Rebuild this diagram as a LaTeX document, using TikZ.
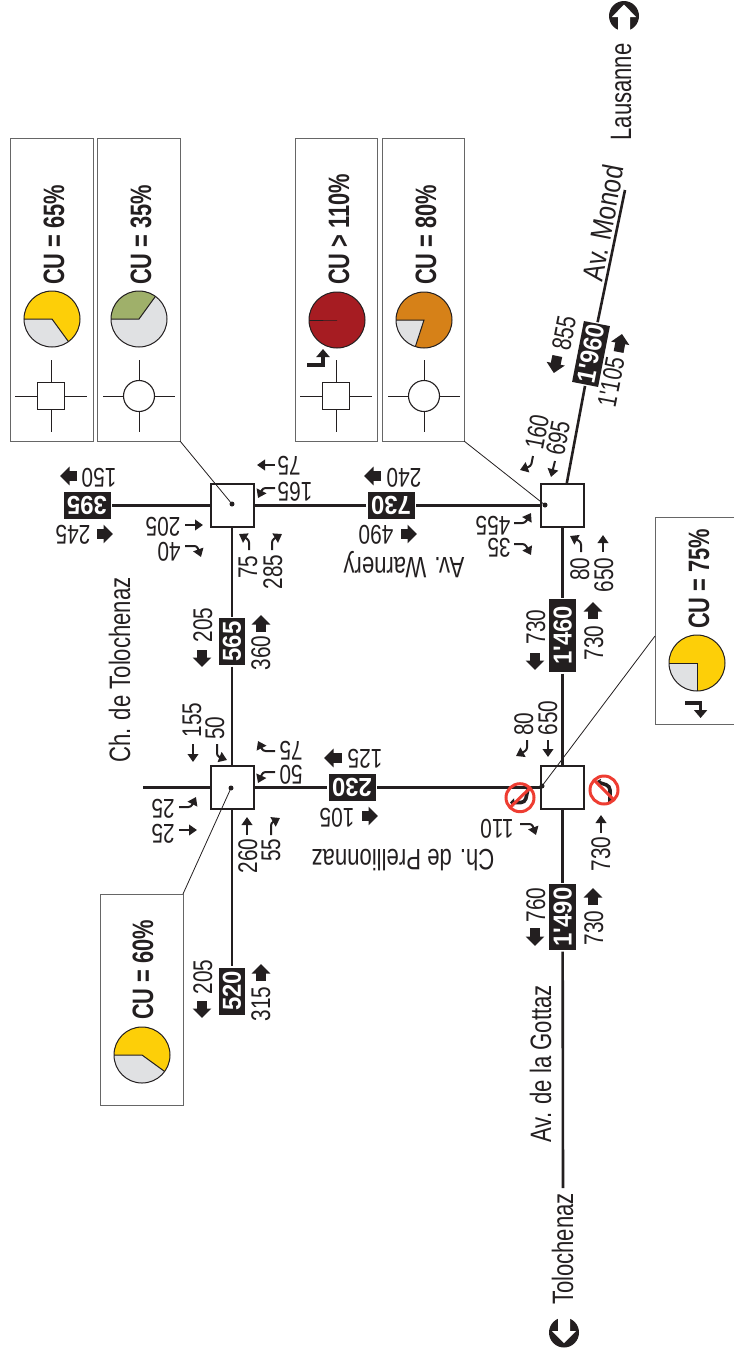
\documentclass[tikz,border=0pt]{standalone}
\usepackage{fontspec}
\usetikzlibrary{arrows.meta}
\newfontfamily\numfont[FakeStretch=0.77]{Liberation Sans}
\newfontfamily\roadfont[FakeStretch=0.75]{Liberation Sans}
\newfontfamily\monodfont[FakeStretch=0.83]{Liberation Sans}
\newfontfamily\cufont[FakeStretch=0.74]{Liberation Sans}
\newfontfamily\boxfont[FakeStretch=0.92]{Liberation Sans}
\definecolor{ink}{HTML}{231F20}
\definecolor{panelgray}{HTML}{666666}
\definecolor{piegray}{HTML}{E0E1E3}
\definecolor{pieyellow}{HTML}{FDCF08}
\definecolor{piegreen}{HTML}{9FB06A}
\definecolor{piered}{HTML}{A61C22}
\definecolor{pieorange}{HTML}{D68118}
\definecolor{nored}{HTML}{EE3D32}
\tikzset{
  road/.style={draw=ink,line width=2.6pt},
  junction/.style={draw=ink,line width=2pt,fill=white,minimum size=43pt,inner sep=0pt,outer sep=0pt},
  flowbox/.style={fill=ink,text=white,inner sep=0pt,outer sep=1.5pt,minimum height=26.5pt,font=\boxfont\bfseries\fontsize{26}{26}\selectfont},
  nv/.style={rotate=90,anchor=base,inner sep=0pt,text=ink,font=\numfont\fontsize{27}{27}\selectfont},
  nh/.style={rotate=180,anchor=base,inner sep=0pt,text=ink,font=\numfont\fontsize{27}{27}\selectfont},
  ns/.style={rotate=79,anchor=center,inner sep=0pt,text=ink,font=\numfont\fontsize{27}{27}\selectfont},
  rv/.style={rotate=90,anchor=base,inner sep=0pt,text=ink,font=\roadfont\fontsize{29.5}{30}\selectfont},
  rh/.style={rotate=180,anchor=base,inner sep=0pt,text=ink,font=\roadfont\fontsize{29.5}{30}\selectfont},
  rs/.style={rotate=79,anchor=center,inner sep=0pt,text=ink,font=\monodfont\fontsize{29.5}{30}\selectfont},
  cutext/.style={rotate=90,anchor=base west,inner sep=0pt,text=ink,font=\cufont\bfseries\fontsize{29.5}{30}\selectfont},
  panel/.style={draw=panelgray,line width=1pt,fill=white,inner sep=0pt,outer sep=0pt},
  leader/.style={draw=ink,line width=0.8pt},
  dotmark/.style={circle,fill=ink,inner sep=0pt,minimum size=5pt,outer sep=0pt},
  thinarr/.style={draw=ink,line width=2pt,-{Triangle[width=10.5pt,length=8pt]}},
  turnarr/.style={draw=ink,line width=2pt,rounded corners=2.5pt,-{Triangle[width=10.5pt,length=8pt]}},
  blockarr/.style={draw=ink,line width=10pt,-{Triangle[width=18pt,length=9.5pt]}},
  panelarr/.style={draw=ink,line width=3.2pt,-{Triangle[width=13pt,length=8pt]}},
  symline/.style={draw=ink,line width=1pt},
  symshape/.style={draw=ink,line width=1.1pt,fill=white},
  noturn/.style={draw=nored,line width=3pt},
  noarrow/.style={draw=ink,line width=3.6pt,rounded corners=4pt,-{Triangle[width=8pt,length=4pt]}}
}
\newcommand{\piechart}[4]{%
  \begin{scope}[shift={(#1,#2)},y=1pt]
    \fill[piegray] (0,0) circle[radius=28pt];
    \fill[#3] (0,0) -- (180:28pt) arc[start angle=180,end angle=#4,radius=28pt] -- cycle;
    \draw[ink,line width=1pt] (180:28pt) -- (0,0) -- (#4:28pt);
    \draw[ink,line width=1pt] (0,0) circle[radius=28pt];
  \end{scope}}
\newcommand{\symsquare}[2]{%
  \draw[symline] (#1-36,#2) -- (#1+36,#2) (#1,#2-36) -- (#1,#2+36);
  \fill[white,draw=ink,line width=1pt] (#1-13.7,#2-13.7) rectangle (#1+13.7,#2+13.7);}
\newcommand{\symcircle}[2]{%
  \draw[symline] (#1-36,#2) -- (#1+36,#2) (#1,#2-36) -- (#1,#2+36);
  \draw[symshape] (#1,#2) circle[radius=15.5pt];}
\begin{document}
\begin{tikzpicture}[x=1pt,y=-1pt]
\useasboundingbox (0,0) rectangle (734,1360);
% coordinates for free road ends
\coordinate (westEnd) at (143,787.5);
\coordinate (monodEnd) at (625,190);
\coordinate (tolEnd) at (563,1188);
% junctions
\node[junction] (jA) at (232,505.5) {};
\node[junction] (jB) at (562.6,505.5) {};
\node[junction] (jC) at (232,787.5) {};
\node[junction] (jD) at (562.6,787.5) {};
% flow boxes
\node[flowbox,rotate=180,minimum width=47pt] (b395) at (87,505.5) {395};
\node[flowbox,rotate=180,minimum width=47pt] (b730) at (391,505.5) {730};
\node[flowbox,rotate=180,minimum width=47pt] (b230) at (352,787.5) {230};
\node[flowbox,rotate=90,minimum width=47pt] (b565) at (232,641.5) {565};
\node[flowbox,rotate=90,minimum width=47pt] (b520) at (232,991) {520};
\node[flowbox,rotate=90,minimum width=73pt] (b1460) at (562.6,635.5) {1'460};
\node[flowbox,rotate=90,minimum width=66pt] (b1490) at (562.6,917) {1'490};
\node[flowbox,rotate=79,minimum width=62pt] (b1960) at (591,354) {1'960};
% roads
\draw[road] (jA) -- (b395);
\draw[road] (jA) -- (b730);
\draw[road] (b730) -- (jB);
\draw[road] (jA) -- (b565);
\draw[road] (b565) -- (jC);
\draw[road] (jC) -- (b520);
\draw[road] (jC) -- (westEnd);
\draw[road] (jC) -- (b230);
\draw[road] (b230) -- (jD);
\draw[road] (jB) -- (b1460);
\draw[road] (b1460) -- (jD);
\draw[road] (jD) -- (b1490);
\draw[road] (b1490) -- (tolEnd);
\draw[road] (jB) -- (b1960);
\draw[road] (b1960) -- (monodEnd);
% panels
\node[panel,minimum width=83pt,minimum height=303pt] (p1) at (51.5,289.5) {};
\node[panel,minimum width=83pt,minimum height=303pt] (p2) at (138.5,289.5) {};
\node[panel,minimum width=82pt,minimum height=303pt] (p3) at (336,289.5) {};
\node[panel,minimum width=82pt,minimum height=303pt] (p4) at (423,289.5) {};
\node[panel,minimum width=83pt,minimum height=211pt] (p6) at (141.5,999.5) {};
\draw[panel,fill=none] (734,517) -- (655,517) -- (655,724) -- (734,724);
\coordinate (p5a) at (655,636);
% leader dots and leaders
\node[dotmark] (dA) at (232,504) {};
\node[dotmark] (dB) at (545,505) {};
\node[dotmark] (dC) at (231,788) {};
\node[dotmark] (dD) at (542,786) {};
\draw[leader] (p2.south east) -- (dA);
\draw[leader] (p4.south east) -- (dB);
\draw[leader] (p6.north east) -- (dC);
\draw[leader] (p5a) -- (dD);
% panel symbols
\symsquare{51}{396}
\symcircle{139}{396}
\symsquare{336}{396}
\symcircle{424}{396}
% pies
\piechart{52}{319}{pieyellow}{-54}
\piechart{139}{319}{piegreen}{54}
\piechart{337}{320}{piered}{-180}
\piechart{424}{320}{pieorange}{-108}
\piechart{697}{663}{pieyellow}{-90}
\piechart{142}{1055}{pieyellow}{-36}
% CU texts
\node[cutext] (cu1) at (64,285) {CU = 65\%};
\node[cutext] (cu2) at (151,285) {CU = 35\%};
\node[cutext] (cu3) at (349,285) {CU > 110\%};
\node[cutext] (cu4) at (436,285) {CU = 80\%};
\node[cutext] (cu5) at (709,629) {CU = 75\%};
\node[cutext] (cu6) at (153,1020) {CU = 60\%};
% panel arrows
\draw[panelarr] (307,365) -- (323,365) -- (323,349);
\draw[panelarr] (685,703) -- (700.6,703) -- (700.6,718);
% section flows
\node[nh] (t150) at (99,468) {150};
\draw[blockarr] (77,476) -- (60,476);
\node[nh] (t245) at (73,525) {245};
\draw[blockarr] (97,534) -- (113,534);
\node[nh] (t240) at (404,468) {240};
\draw[blockarr] (381,476) -- (364,476);
\node[nh] (t490) at (376,525) {490};
\draw[blockarr] (401,534) -- (417,534);
\node[nh] (t125) at (365,749) {125};
\draw[blockarr] (342,758) -- (324,758);
\node[nh] (t105) at (337,808) {105};
\draw[blockarr] (362,816) -- (378,816);
\node[nv] (t205a) at (212,625) {205};
\draw[blockarr] (202,650) -- (202,667);
\node[nv] (t360) at (270,653) {360};
\draw[blockarr] (261,632) -- (261,615);
\node[nv] (t205b) at (212,977) {205};
\draw[blockarr] (202,1001) -- (202,1018);
\node[nv] (t315) at (270,1004) {315};
\draw[blockarr] (261,981) -- (261,964);
\node[nv] (t730a) at (545,627) {730};
\draw[blockarr] (535,653) -- (535,670);
\node[nv] (t730b) at (603,643) {730};
\draw[blockarr] (593,619) -- (593,602);
\node[nv] (t760) at (545,905) {760};
\draw[blockarr] (535,928) -- (535,946);
\node[nv] (t730c) at (603,928) {730};
\draw[blockarr] (593,905) -- (593,888);
\node[ns] (t855) at (564,333) {855};
\draw[blockarr] (557.3,356) -- (553.8,373);
\node[ns] (t1105) at (611,382) {1'105};
\draw[blockarr] (618.6,352) -- (622,334);
% turning flows, junction A
\node[nh] (a205) at (163,517) {205};
\draw[thinarr] (185,525) -- (203,525);
\node[nh] (a40) at (169,542) {40};
\draw[turnarr] (185,546) -- (197,546) -- (201,557);
\node[nh] (a75) at (289,456) {75};
\draw[thinarr] (275,465) -- (257,465);
\node[nh] (a165) at (295,482) {165};
\draw[turnarr] (275,488) -- (263,488) -- (258,498);
\node[nv] (a75b) at (257,567) {75};
\draw[turnarr] (249,550) -- (249,540) -- (239,534);
\node[nv] (a285) at (282,572) {285};
\draw[turnarr] (272,550) -- (272,540) -- (282,534);
% junction B
\node[nh] (b455t) at (493,516) {455};
\draw[turnarr] (514,523) -- (525,523) -- (531,513);
\node[nh] (b35t) at (499,538) {35};
\draw[turnarr] (514,544) -- (525,544) -- (531,555);
\node[nv] (b80t) at (589,569) {80};
\draw[turnarr] (581,552) -- (581,542) -- (570,536);
\node[nv] (b650t) at (613,575) {650};
\draw[thinarr] (603,552) -- (603,535);
\node[ns] (b160t) at (537,432) {160};
\draw[turnarr] (533,456) -- (531,466) -- (520,470);
\node[ns] (b695t) at (558,438) {695};
\draw[thinarr] (555,461) -- (551,477);
% junction C
\node[nv] (c155) at (201,720) {155};
\draw[thinarr] (193,744) -- (193,762);
\node[nv] (c50a) at (224,728) {50};
\draw[turnarr] (217,744) -- (217,756) -- (227,760);
\node[nh] (c75) at (291,741) {75};
\draw[turnarr] (275,751) -- (263,751) -- (258,741);
\node[nh] (c50b) at (291,765) {50};
\draw[turnarr] (275,772) -- (263,772) -- (258,783);
\node[nh] (c25a) at (163,799) {25};
\draw[turnarr] (179,807) -- (191,807) -- (196,797);
\node[nh] (c25b) at (163,824) {25};
\draw[thinarr] (179,830) -- (197,830);
\node[nv] (c260) at (257,856) {260};
\draw[thinarr] (247,835) -- (247,817);
\node[nv] (c55) at (280,850) {55};
\draw[turnarr] (271,835) -- (271,823) -- (280,818);
% junction D
\node[nv] (d80) at (533,724) {80};
\draw[turnarr] (527,740) -- (527,750) -- (516,756);
\node[nv] (d650) at (557,718) {650};
\draw[thinarr] (548,740) -- (548,757);
\node[nh] (d110) at (497,819) {110};
\draw[turnarr] (520,824) -- (532,824) -- (536,835);
\node[nv] (d730) at (610,854) {730};
\draw[thinarr] (601,833) -- (601,815);
% forbidden movements
\draw[noarrow] (528,789) -- (525,802.5) -- (510,802.5);
\draw[noturn] (520,797.7) circle[radius=14pt];
\draw[noturn] (510.5,807) -- (530,788);
\draw[noarrow] (610,802) -- (610,786) -- (596,781.5);
\draw[noturn] (604,790) circle[radius=14pt];
\draw[noturn] (594.5,780.5) -- (613.5,799.5);
% road names
\node[rv] (nLausanne) at (631,92) {Lausanne};
\node[rs] (nMonod) at (603,223) {Av. Monod};
\node[rh] (nWarnery) at (404,557) {Av. Warnery};
\node[rh] (nPrell) at (403,849) {Ch. de Prellionnaz};
\node[rv] (nTolCh) at (130,670) {Ch. de Tolochenaz};
\node[rv] (nGottaz) at (551,1064) {Av. de la Gottaz};
\node[rv] (nTol) at (573,1249) {Tolochenaz};
% direction icons
\fill[ink] (624,16) circle[radius=15pt];
\fill[white] (624,4.5) -- (636,17) -- (630,17) -- (630,32) -- (618,32) -- (618,17) -- (612,17) -- cycle;
\fill[ink] (564,1332.5) circle[radius=15pt];
\fill[white] (564,1343) -- (552,1331) -- (558,1331) -- (558,1316) -- (570,1316) -- (570,1331) -- (576,1331) -- cycle;
\end{tikzpicture}
\end{document}
